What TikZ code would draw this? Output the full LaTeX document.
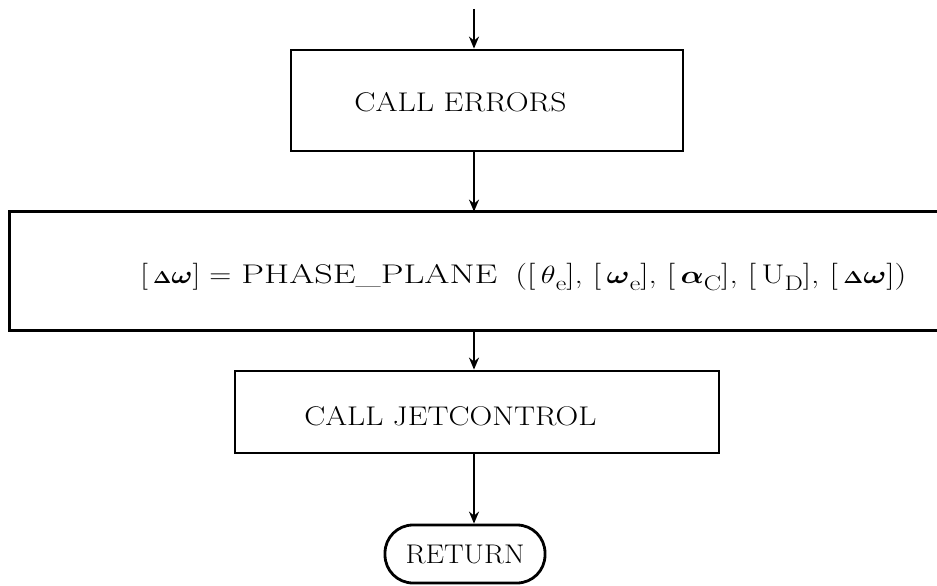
\documentclass[tikz,border=0pt]{standalone}
\usepackage{fontspec}
\usepackage{graphicx}
\usepackage{bm}
\usetikzlibrary{arrows.meta}
\newcommand{\fitw}[2]{\resizebox{#1}{\height}{#2}}
\newcommand{\smdelta}{$\bm{\scriptstyle\Delta}$}
\newcommand{\lowsub}[1]{\raisebox{-7pt}{\fontsize{21}{24}\selectfont #1}}
\begin{document}
\begin{tikzpicture}[x=1pt,y=-1pt,line width=2.8pt,
  box/.style={draw, rectangle, inner sep=0pt},
  arr/.style={-{Stealth[length=12pt,width=10pt]}, line width=2pt},
  lbl/.style={font=\fontsize{27}{32}\selectfont, inner sep=0pt, anchor=base west}]
\useasboundingbox (0,0) rectangle (937,586);
\coordinate (top) at (474,9);
% box 1
\node[box, minimum width=392pt, minimum height=101pt] (b1) at (487,100.5) {};
\node[lbl] (t1) at (353,111) {\fitw{212pt}{CALL ERRORS}};
% box 2 (open on the right)
\node[inner sep=0pt, minimum width=926pt, minimum height=116pt] (b2) at (474,271) {};
\draw (b2.north east) -- (b2.north west) -- (b2.south west) -- (b2.south east);
\node[lbl] (t2a) at (139,283) {\fitw{91pt}{[\,\smdelta$\bm{\omega}$] =}};
\node[lbl] (t2b) at (240,283) {\fitw{256pt}{PHASE\_PLANE}};
\node[lbl] (t2c) at (514,283) {\fitw{391pt}{([\,$\theta$\lowsub{e}], [\,$\bm{\omega}$\lowsub{e}], [\,$\bm{\alpha}$\lowsub{C}], [\,U\lowsub{D}], [\,\smdelta$\bm{\omega}$])}};
% box 3
\node[box, minimum width=484pt, minimum height=82pt] (b3) at (477,412) {};
\node[lbl] (t3) at (303,425) {\fitw{292pt}{CALL JETCONTROL}};
% return
\node[draw, rounded corners=28pt, minimum width=160pt, minimum height=58pt, inner sep=0pt,
      font=\fontsize{27}{32}\selectfont] (ret) at (465,554) {\fitw{119pt}{RETURN}};
% connectors
\draw[arr] (top) -- (top |- b1.north);
\draw[arr] (top |- b1.south) -- (top |- b2.north);
\draw[arr] (top |- b2.south) -- (top |- b3.north);
\draw[arr] (top |- b3.south) -- (top |- ret.north);
\end{tikzpicture}
\end{document}
